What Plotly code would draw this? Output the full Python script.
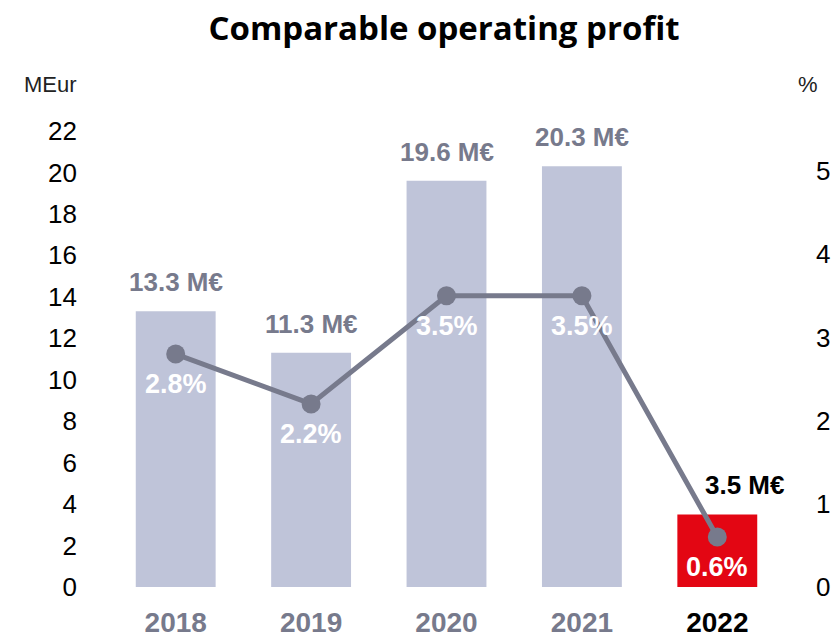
import plotly.graph_objects as go

years = ["2018", "2019", "2020", "2021", "2022"]
profit = [13.3, 11.3, 19.6, 20.3, 3.5]
margin_pct = [2.8, 2.2, 3.5, 3.5, 0.6]
profit_labels = ["13.3 M€", "11.3 M€", "19.6 M€", "20.3 M€", "3.5 M€"]
pct_labels = ["2.8%", "2.2%", "3.5%", "3.5%", "0.6%"]
left_ticks = list(range(0, 23, 2))
right_ticks = [0, 1, 2, 3, 4, 5]

GREY_BAR = "#bfc4d9"
RED = "#e30613"
LINE = "#777a8c"
LABEL_GREY = "#777a8c"
SANS = "Liberation Sans, Arial, sans-serif"
NARROW = "Liberation Sans Narrow, Arial Narrow, Liberation Sans, sans-serif"

W, H = 838, 635
ML, MR, MT, MB = 108, 53, 115, 48

bar_colors = [GREY_BAR] * 4 + [RED]

fig = go.Figure()

fig.add_trace(go.Bar(
    x=years, y=profit,
    marker=dict(color=bar_colors, line=dict(width=0)),
    width=0.59,
    hoverinfo="skip",
    showlegend=False,
))

fig.add_trace(go.Scatter(
    x=years, y=margin_pct, yaxis="y2",
    mode="lines+markers",
    line=dict(color=LINE, width=5),
    marker=dict(color=LINE, size=19),
    hoverinfo="skip",
    showlegend=False,
))

# value labels above the bars and % labels under the points (category index positions)
for i, (v, lab, p, plab) in enumerate(zip(profit, profit_labels, margin_pct, pct_labels)):
    last = i == len(years) - 1
    fig.add_annotation(
        x=i, y=v, xref="x", yref="y",
        text=f"<b>{lab}</b>",
        showarrow=False,
        yanchor="middle",
        yshift=29,
        xshift=28 if last else 0,
        font=dict(size=26, color="black" if last else LABEL_GREY, family=SANS),
    )
    fig.add_annotation(
        x=i, y=p, xref="x", yref="y2",
        text=f"<b>{plab}</b>",
        showarrow=False,
        yanchor="middle",
        yshift=-30,
        font=dict(size=27, color="white", family=SANS),
    )


def px_to_paper(px, py):
    return (px - ML) / (W - ML - MR), (H - MB - py) / (H - MT - MB)


for txt, (px, py) in [("MEur", (50, 85)), ("%", (808, 85))]:
    ax, ay = px_to_paper(px, py)
    fig.add_annotation(x=ax, y=ay, xref="paper", yref="paper", text=txt,
                       xanchor="center", yanchor="middle",
                       showarrow=False, font=dict(size=22, color="#222", family=SANS))

tick_text = [f"<b>{y}</b>" for y in years[:-1]] + [f"<b><span style='color:black'>{years[-1]}</span></b>"]

fig.update_layout(
    width=W, height=H,
    margin=dict(l=ML, r=MR, t=MT, b=MB, autoexpand=False),
    paper_bgcolor="white", plot_bgcolor="white",
    title=dict(text="<b>Comparable operating profit</b>", x=444 / W, xanchor="center",
               y=1 - 28 / H, yanchor="middle",
               font=dict(size=33, color="black", family="Open Sans, Lato, sans-serif")),
    xaxis=dict(type="category", range=[-0.5, len(years) - 0.5], autorange=False,
               tickvals=years, ticktext=tick_text, showline=False,
               showgrid=False, ticks="", ticklabelstandoff=16, tickangle=0,
               tickfont=dict(size=28, color=LABEL_GREY, family=NARROW)),
    yaxis=dict(range=[0, 22.77], tickvals=left_ticks, showgrid=False, zeroline=False,
               showline=False, ticks="", ticklabelstandoff=30,
               tickfont=dict(size=26, color="black", family=SANS)),
    yaxis2=dict(range=[0, 5.673], tickvals=right_ticks, overlaying="y", side="right",
                showgrid=False, zeroline=False, showline=False, ticks="",
                ticklabelstandoff=30,
                tickfont=dict(size=26, color="black", family=SANS)),
)

fig.write_html("out.html", config={"displayModeBar": False},
               post_script="document.body.style.margin='0';")
